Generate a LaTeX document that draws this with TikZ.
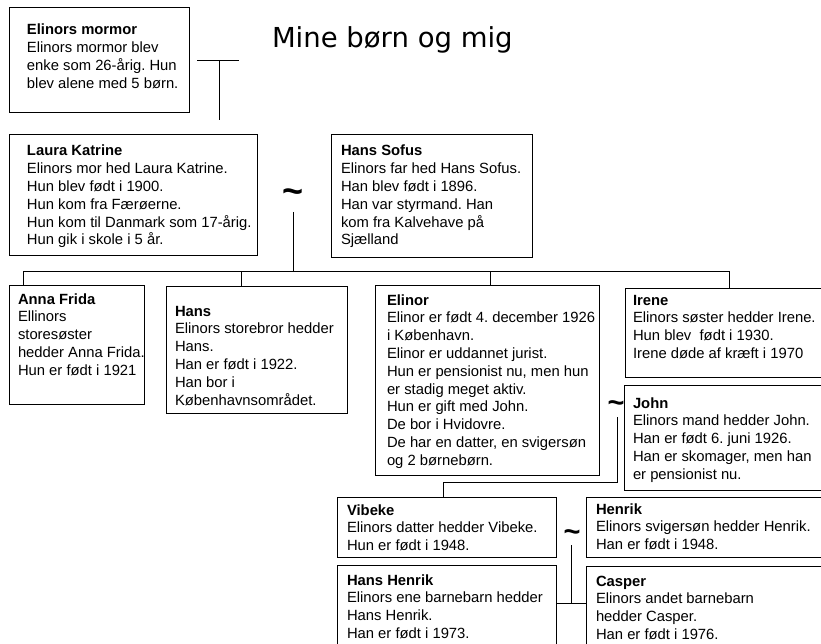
\documentclass[tikz,border=0pt]{standalone}
\usepackage{fontspec}
\setmainfont{Liberation Sans}
\newfontfamily\titlefont{DejaVu Sans}
\frenchspacing
\newcommand\bodyfont{\fontsize{14.8}{17.8}\selectfont}
\newcommand\tx[1]{\parbox[t]{300pt}{\bodyfont\raggedright\frenchspacing #1}}
\tikzset{
  box/.style={draw, line width=1pt, anchor=north west, inner sep=0pt, outer sep=0pt},
  txt/.style={anchor=base west, inner sep=0pt, outer sep=0pt},
  link/.style={line width=1pt},
  tildebig/.style={inner sep=0pt, font=\bfseries\fontsize{36}{36}\selectfont},
  tildesmall/.style={inner sep=0pt, font=\bfseries\fontsize{29}{29}\selectfont},
}
\begin{document}
\begin{tikzpicture}[x=1pt,y=-1pt]
\useasboundingbox (0,0) rectangle (821,644);
\fill[white] (0,0) rectangle (821,644);
% title
\node[txt, font=\titlefont\fontsize{27.5}{30}\selectfont] (title) at (272,48) {Mine børn og mig};
% boxes
\node[box, minimum width=180, minimum height=105] (mormor) at (9,8) {};
\node[box, minimum width=248, minimum height=120] (laura) at (9,135) {};
\node[box, minimum width=201, minimum height=122] (sofus) at (331,135) {};
\node[box, minimum width=135, minimum height=119] (anna) at (9,285) {};
\node[box, minimum width=181, minimum height=127] (hans) at (166,286) {};
\node[box, minimum width=224, minimum height=190] (elinor) at (375,285) {};
\node[box, minimum width=200, minimum height=89] (irene) at (625,288) {};
\node[box, minimum width=201, minimum height=105] (john) at (624,385) {};
\node[box, minimum width=219, minimum height=60] (vibeke) at (337,497) {};
\node[box, minimum width=239, minimum height=60] (henrik) at (586,497) {};
\node[box, minimum width=219, minimum height=90] (hh) at (337,565) {};
\node[box, minimum width=239, minimum height=90] (casper) at (586,566) {};
% texts
\node[txt] (mormor-t) at (27,35) {\tx{\textbf{Elinors mormor}\\Elinors mormor blev\\enke som 26-årig. Hun\\blev alene med 5 børn.}};
\node[txt] (laura-t) at (27,156) {\tx{\textbf{Laura Katrine}\\Elinors mor hed Laura Katrine.\\Hun blev født i 1900.\\Hun kom fra Færøerne.\\Hun kom til Danmark som 17-årig.\\Hun gik i skole i 5 år.}};
\node[txt] (sofus-t) at (341,156) {\tx{\textbf{Hans Sofus}\\Elinors far hed Hans Sofus.\\Han blev født i 1896.\\Han var styrmand. Han\\kom fra Kalvehave på\\Sjælland}};
\node[txt] (anna-t) at (18,304) {\tx{\textbf{Anna Frida}\\Ellinors\\storesøster\\hedder Anna Frida.\\Hun er født i 1921}};
\node[txt] (hans-t) at (175,316) {\tx{\textbf{Hans}\\Elinors storebror hedder\\Hans.\\Han er født i 1922.\\Han bor i\\Københavnsområdet.}};
\node[txt] (elinor-t) at (387,305) {\tx{\textbf{Elinor}\\Elinor er født 4. december 1926\\i København.\\Elinor er uddannet jurist.\\Hun er pensionist nu, men hun\\er stadig meget aktiv.\\Hun er gift med John.\\De bor i Hvidovre.\\De har en datter, en svigersøn\\og 2 børnebørn.}};
\node[txt] (irene-t) at (633,305) {\tx{\textbf{Irene}\\Elinors søster hedder Irene.\\Hun blev\ \ født i 1930.\\Irene døde af kræft i 1970}};
\node[txt] (john-t) at (633,408) {\tx{\textbf{John}\\Elinors mand hedder John.\\Han er født 6. juni 1926.\\Han er skomager, men han\\er pensionist nu.}};
\node[txt] (vibeke-t) at (347,515) {\tx{\textbf{Vibeke}\\Elinors datter hedder Vibeke.\\Hun er født i 1948.}};
\node[txt] (henrik-t) at (596,514) {\tx{\textbf{Henrik}\\Elinors svigersøn hedder Henrik.\\Han er født i 1948.}};
\node[txt] (hh-t) at (347,585) {\tx{\textbf{Hans Henrik}\\Elinors ene barnebarn hedder\\Hans Henrik.\\Han er født i 1973.}};
\node[txt] (casper-t) at (596,586) {\tx{\textbf{Casper}\\Elinors andet barnebarn\\hedder Casper.\\Han er født i 1976.}};
% tildes
\node[tildebig] (t1) at (293,196) {\char"7E};
\node[tildesmall] (t2) at (616,407) {\char"7E};
\node[tildesmall] (t3) at (572,536) {\char"7E};
% connectors
\coordinate (m1) at (197,61);
\coordinate (m2) at (239,61);
\coordinate (m3) at (219,120);
\draw[link] (m1) -- (m2);
\draw[link] (m3 |- m1) -- (m3);
\coordinate (p1) at (293,212);
\coordinate (bar) at (293,271);
\draw[link] (p1) -- (bar);
\coordinate (barL) at (23,271);
\coordinate (barR) at (729,271);
\draw[link] (barL) -- (barR);
\draw[link] (barL) -- (barL |- anna.north);
\draw[link] (241,271) -- (hans.north -| 241,0);
\draw[link] (490,271) -- (elinor.north -| 490,0);
\draw[link] (barR) -- (barR |- irene.north);
\coordinate (p2) at (617,417);
\coordinate (p2b) at (617,482);
\coordinate (p2c) at (443,482);
\draw[link] (p2) -- (p2b) -- (p2c) -- (p2c |- vibeke.north);
\coordinate (p3) at (571,545);
\coordinate (p3b) at (571,603);
\draw[link] (p3) -- (p3b);
\draw[link] (hh.east |- p3b) -- (casper.west |- p3b);
\end{tikzpicture}
\end{document}
